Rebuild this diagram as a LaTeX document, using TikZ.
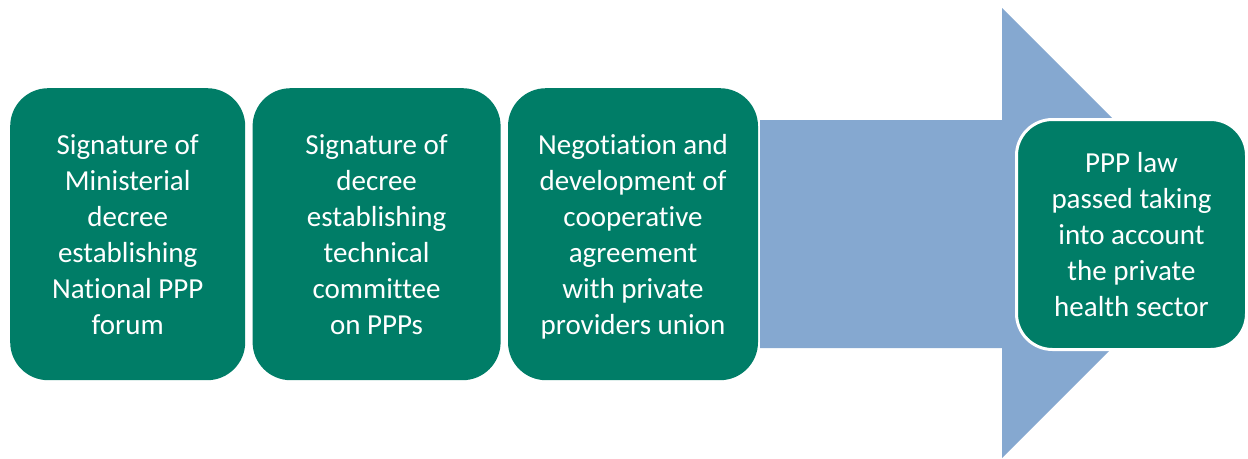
\documentclass[tikz,border=0pt]{standalone}
\usepackage{fontspec}
\setmainfont[Ligatures=NoCommon]{Carlito}
\usetikzlibrary{positioning}

\definecolor{stagegreen}{RGB}{0,125,103}
\definecolor{arrowblue}{RGB}{133,168,208}

\tikzset{
  stage/.style={fill=stagegreen, text=white, rounded corners=38pt, align=center,
    minimum height=292pt, inner sep=0pt, text depth=0pt, font=\fontsize{29}{36}\selectfont}
}

\begin{document}
\begin{tikzpicture}[x=1pt, y=-1pt]
\useasboundingbox (0,0) rectangle (1248,458);
% wide arrow running behind the steps
\fill[arrowblue] (760,120) -- (1002,120) -- (1002,8) -- (1227,233) -- (1002,458) -- (1002,348) -- (760,348) -- cycle;
\node[stage, minimum width=235pt, anchor=north west] (forum) at (10,88) {Signature of\\Ministerial\\decree\\establishing\\National PPP\\forum};
\node[stage, minimum width=248pt, right=7pt of forum] (committee) {Signature of\\decree\\establishing\\technical\\committee\\on PPPs};
\node[stage, minimum width=250pt, right=7pt of committee] (union) {Negotiation and\\development of\\cooperative\\agreement\\with private\\providers union};
\node[stage, draw=white, line width=3pt, rounded corners=36pt, minimum width=230pt, minimum height=230pt] (law) at (1131.5,234.5) {PPP law\\passed taking\\into account\\the private\\health sector};
\end{tikzpicture}
\end{document}
